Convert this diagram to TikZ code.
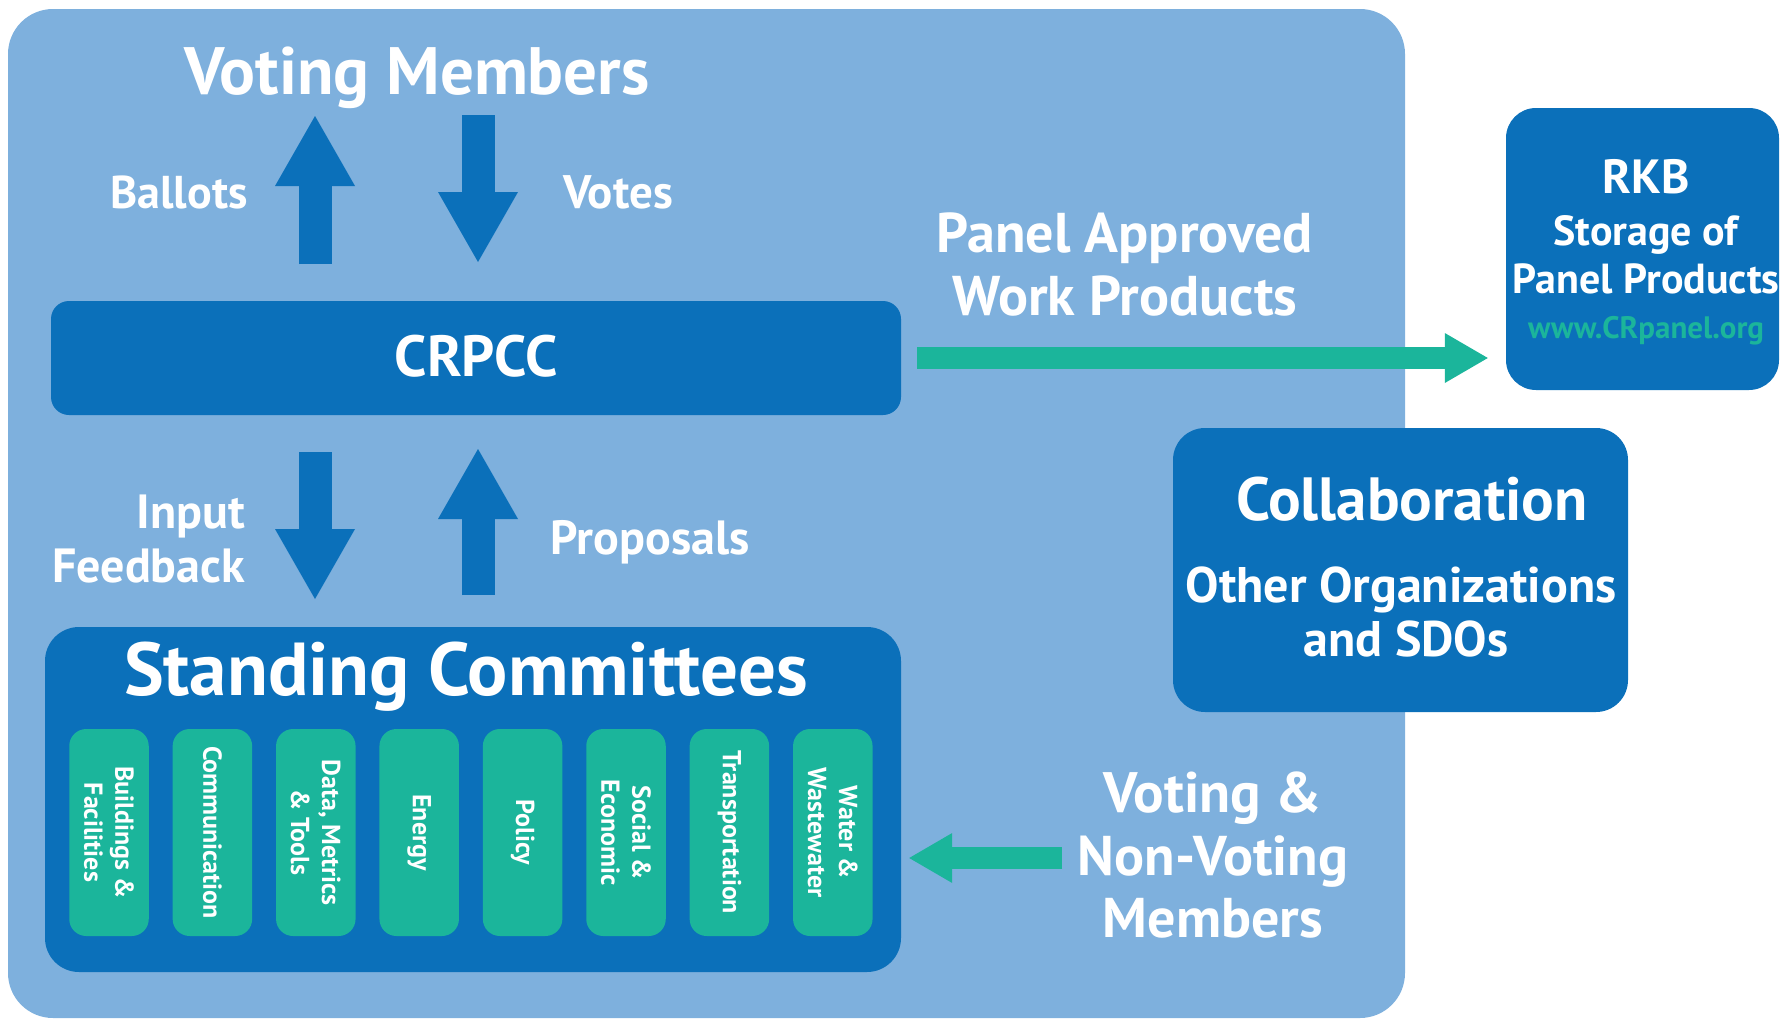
\documentclass[tikz,border=0pt]{standalone}
\usepackage{fontspec}
\setmainfont{PT Sans}
\usetikzlibrary{arrows.meta}
\definecolor{lightpanel}{RGB}{126,176,221}
\definecolor{darkblue}{RGB}{11,112,186}
\definecolor{tealgreen}{RGB}{27,181,155}
\tikzset{
  roundbox/.style={rectangle, rounded corners=#1, inner sep=0pt, draw=none},
  wtext/.style={text=white, align=center, inner sep=0pt},
  bigarrow/.style={draw=darkblue, line width=33pt, -{Triangle[length=70pt,width=80pt,line width=0pt]}},
  greenarrow/.style={draw=tealgreen, line width=22pt, -{Triangle[length=43pt,width=50pt,line width=0pt]}},
  commbox/.style={roundbox=17pt, fill=tealgreen, minimum width=79.5pt, minimum height=207pt},
  commtext/.style={wtext, rotate=-90, font=\bfseries\fontsize{26}{31}\selectfont},
}
\begin{document}
\begin{tikzpicture}[x=1pt,y=-1pt]
\useasboundingbox (0,0) rectangle (1781,1020);
% main panel
\node[roundbox=45pt, fill=lightpanel, minimum width=1397pt, minimum height=1009pt] (panel) at (706.5,513.5) {};
% title
\node[wtext, anchor=base, font=\bfseries\fontsize{67}{80}\selectfont] (vm) at (417,94) {Voting Members};
% CRPCC
\node[roundbox=18pt, fill=darkblue, minimum width=850pt, minimum height=114pt] (crpcc) at (476,358) {};
\node[wtext, anchor=base, font=\bfseries\fontsize{58}{70}\selectfont] (crpcct) at (476,376) {CRPCC};
% arrows top
\coordinate (bS) at (315,264); \coordinate (bT) at (315,116);
\coordinate (vS) at (478,115); \coordinate (vT) at (478,262);
\draw[bigarrow] (bS) -- (bT);
\draw[bigarrow] (vS) -- (vT);
\node[wtext, anchor=base, font=\bfseries\fontsize{46}{54}\selectfont] (ballots) at (179,208) {Ballots};
\node[wtext, anchor=base, font=\bfseries\fontsize{47}{54}\selectfont] (votes) at (618,208) {Votes};
% arrows middle
\coordinate (iS) at (315,452); \coordinate (iT) at (315,599);
\coordinate (pS) at (478,595); \coordinate (pT) at (478,449);
\draw[bigarrow] (iS) -- (iT);
\draw[bigarrow] (pS) -- (pT);
\node[wtext, anchor=base east, font=\bfseries\fontsize{48}{54}\selectfont] (input) at (245,528) {Input};
\node[wtext, anchor=base east, font=\bfseries\fontsize{48}{54}\selectfont] (feedback) at (245,582) {Feedback};
\node[wtext, anchor=base, font=\bfseries\fontsize{48}{54}\selectfont] (proposals) at (650,554) {Proposals};
% standing committees
\node[roundbox=34pt, fill=darkblue, minimum width=856pt, minimum height=345pt] (standing) at (473,799.5) {};
\node[wtext, anchor=base, font=\bfseries\fontsize{75}{88}\selectfont] (standingt) at (466,695) {Standing Committees};
\foreach \i/\t in {0/{Buildings \&\\Facilities},1/{Communication},2/{Data, Metrics\\\& Tools},3/{Energy},4/{Policy},5/{Social \&\\Economic},6/{Transportation},7/{Water \&\\Wastewater}}{
  \node[commbox] (c\i) at (109+\i*103.4,832.5) {};
  \node[commtext] (ct\i) at (c\i) {\t};
}
% panel approved
\node[wtext, anchor=base, font=\bfseries\fontsize{56}{66}\selectfont] (pa1) at (1125,252) {Panel Approved};
\node[wtext, anchor=base, font=\bfseries\fontsize{56}{66}\selectfont] (pa2) at (1125,315) {Work Products};
% RKB
\node[roundbox=30pt, fill=darkblue, minimum width=273pt, minimum height=282pt] (rkb) at (1642.5,249) {};
\node[wtext, anchor=base, font=\bfseries\fontsize{48}{58}\selectfont] (rkb1) at (1646,193) {RKB};
\node[wtext, anchor=base, font=\bfseries\fontsize{42}{50}\selectfont] (rkb2) at (1646,245) {Storage of};
\node[wtext, anchor=base, font=\bfseries\fontsize{42}{50}\selectfont] (rkb3) at (1646,293) {Panel Products};
\node[inner sep=0pt, text=tealgreen, anchor=base, font=\bfseries\fontsize{31}{36}\selectfont] (rkb4) at (1646,338) {www.CRpanel.org};
\draw[greenarrow] ([xshift=16pt]crpcc.east) -- ([xshift=-18pt]rkb.west |- crpcc.east);
% collaboration
\node[roundbox=32pt, fill=darkblue, minimum width=455pt, minimum height=284pt] (collab) at (1400.5,570) {};
\node[wtext, anchor=base, font=\bfseries\fontsize{61}{72}\selectfont] (col1) at (1412,520) {Collaboration};
\node[wtext, anchor=base, font=\bfseries\fontsize{50}{58}\selectfont] (col2) at (1401,602) {Other Organizations};
\node[wtext, anchor=base, font=\bfseries\fontsize{50}{58}\selectfont] (col3) at (1406,656) {and SDOs};
% voting & non-voting
\node[wtext, anchor=base, font=\bfseries\fontsize{57}{70}\selectfont] (vn1) at (1213,812) {Voting \&};
\node[wtext, anchor=base, font=\bfseries\fontsize{56}{70}\selectfont] (vn2) at (1213,875) {Non-Voting};
\node[wtext, anchor=base, font=\bfseries\fontsize{56}{70}\selectfont] (vn3) at (1213,937) {Members};
\coordinate (vnA) at (1062,858);
\draw[greenarrow] (vnA) -- ([xshift=8pt]standing.east |- vnA);
\end{tikzpicture}
\end{document}
